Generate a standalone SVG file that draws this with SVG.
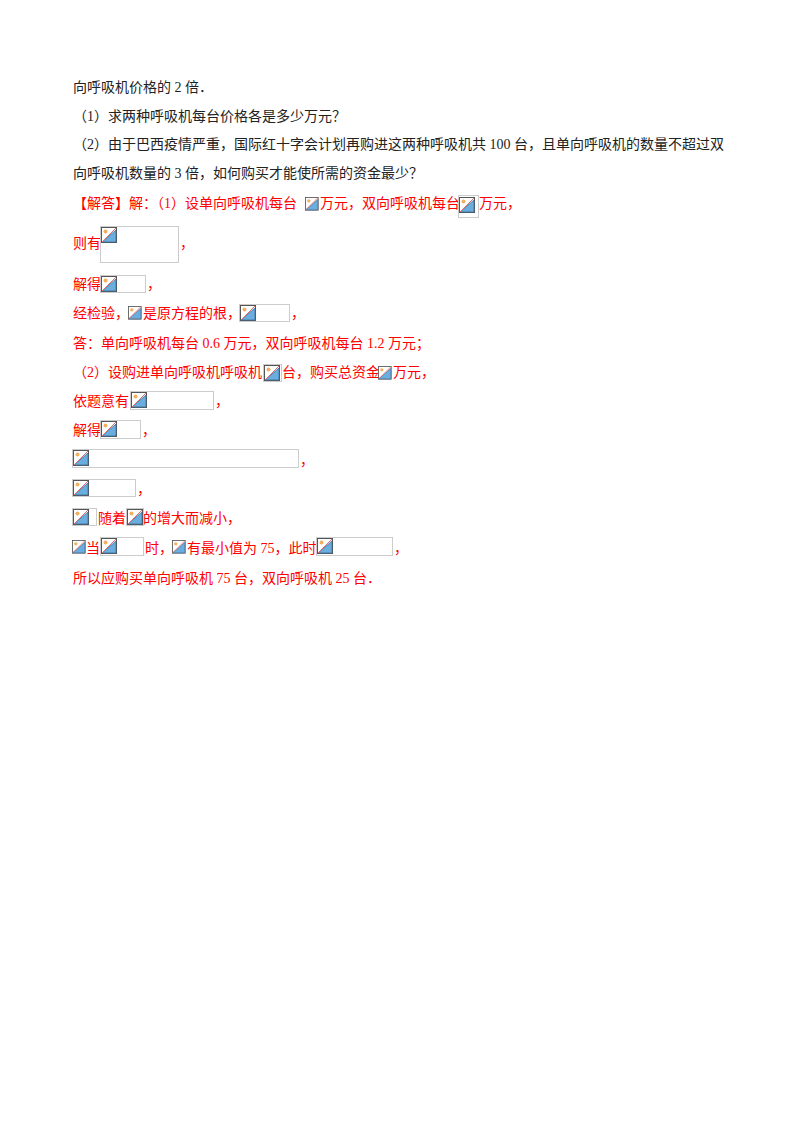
<svg xmlns="http://www.w3.org/2000/svg" width="800" height="1132" viewBox="0 0 800 1132">
<style>
text{font-family:"Liberation Serif","Noto Sans CJK SC",serif;font-size:14px}
.b{fill:#222}.r{fill:#f00}
.box{fill:#fff;stroke:#ccc;stroke-width:1}
</style>
<defs>
<g id="ic">
<rect x="0.5" y="0.5" width="15" height="15" fill="#fff" stroke="#555"/>
<path d="M1 15 L15 3 L15 15 Z" fill="#6aaee0" stroke="#3a6d9a" stroke-width="0.8"/>
<circle cx="4.5" cy="4.5" r="2" fill="#f0b060"/>
<line x1="1" y1="15" x2="15" y2="1" stroke="#e07070" stroke-width="1"/>
</g>
</defs>
<rect width="800" height="1132" fill="#fff"/>
<g id="text">
<text class="b" x="73" y="92">向呼吸机价格的 2 倍．</text>
<text class="b" x="73" y="121">（1）求两种呼吸机每台价格各是多少万元？</text>
<text class="b" x="73" y="149">（2）由于巴西疫情严重，国际红十字会计划再购进这两种呼吸机共 100 台，且单向呼吸机的数量不超过双</text>
<text class="b" x="73" y="178">向呼吸机数量的 3 倍，如何购买才能使所需的资金最少？</text>
<text class="r" x="73" y="208">【解答】解：（1）设单向呼吸机每台</text>
<text class="r" x="320" y="208">万元，双向呼吸机每台</text>
<text class="r" x="479" y="208">万元，</text>
<text class="r" x="73" y="248">则有</text><text class="r" x="180" y="248">，</text>
<text class="r" x="73" y="289">解得</text><text class="r" x="147" y="289">，</text>
<text class="r" x="73" y="318">经检验，</text><text class="r" x="143" y="318">是原方程的根，</text><text class="r" x="291" y="318">，</text>
<text class="r" x="73" y="348">答：单向呼吸机每台 0.6 万元，双向呼吸机每台 1.2 万元；</text>
<text class="r" x="73" y="377">（2）设购进单向呼吸机呼吸机</text><text class="r" x="282" y="377">台，购买总资金</text><text class="r" x="393" y="377">万元，</text>
<text class="r" x="73" y="406">依题意有</text><text class="r" x="215" y="406">，</text>
<text class="r" x="73" y="435">解得</text><text class="r" x="142" y="435">，</text>
<text class="r" x="300" y="465">，</text>
<text class="r" x="137" y="494">，</text>
<text class="r" x="98" y="523">随着</text><text class="r" x="143" y="523">的增大而减小，</text>
<text class="r" x="86" y="553">当</text><text class="r" x="145" y="553">时，</text><text class="r" x="187" y="553">有最小值为 75，此时</text><text class="r" x="394" y="553">，</text>
<text class="r" x="73" y="583">所以应购买单向呼吸机 75 台，双向呼吸机 25 台．</text>
</g>
<g id="images">
<use href="#ic" transform="translate(305,197) scale(0.85)"/>
<rect class="box" x="458.5" y="195.5" width="20" height="22"/><use href="#ic" x="459" y="197"/>
<rect class="box" x="100.5" y="226.5" width="78" height="36"/><use href="#ic" x="101" y="227"/>
<rect class="box" x="100.5" y="275.5" width="45" height="17"/><use href="#ic" x="101" y="276"/>
<use href="#ic" transform="translate(128,306) scale(0.85)"/>
<rect class="box" x="239.5" y="304.5" width="50" height="17"/><use href="#ic" x="240" y="305"/>
<rect class="box" x="263.5" y="364.5" width="18" height="17"/><use href="#ic" x="264" y="365"/>
<use href="#ic" transform="translate(378,366) scale(0.85)"/>
<rect class="box" x="130.5" y="391.5" width="83" height="18"/><use href="#ic" x="131" y="392"/>
<rect class="box" x="100.5" y="420.5" width="40" height="18"/><use href="#ic" x="101" y="421"/>
<rect class="box" x="72.5" y="449.5" width="226" height="18"/><use href="#ic" x="73" y="450"/>
<rect class="box" x="72.5" y="479.5" width="63" height="17"/><use href="#ic" x="73" y="480"/>
<rect class="box" x="72.5" y="508.5" width="24" height="17"/><use href="#ic" x="73" y="509"/>
<rect class="box" x="126.5" y="508.5" width="17" height="17"/><use href="#ic" x="127" y="509"/>
<use href="#ic" transform="translate(72,540) scale(0.85)"/>
<rect class="box" x="100.5" y="537.5" width="43" height="18"/><use href="#ic" x="101" y="538"/>
<use href="#ic" transform="translate(172,540) scale(0.85)"/>
<rect class="box" x="316.5" y="537.5" width="76" height="18"/><use href="#ic" x="317" y="538"/>
</g>
</svg>
